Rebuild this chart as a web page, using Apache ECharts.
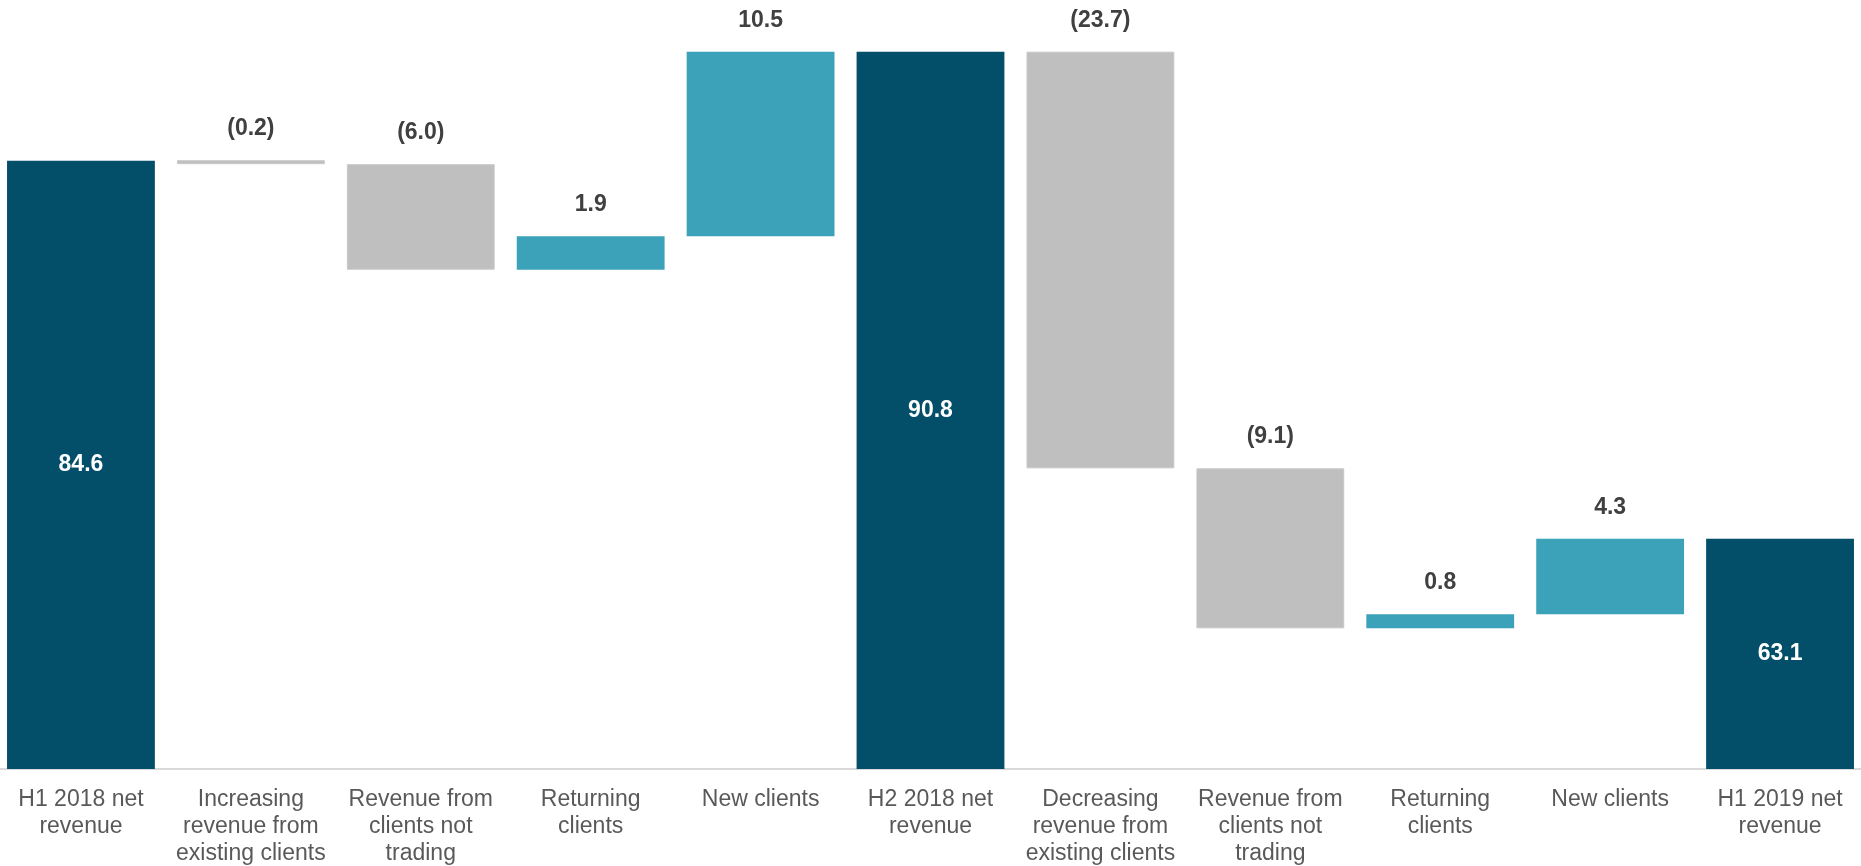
<!DOCTYPE html>
<html>
<head>
<meta charset="utf-8">
<script src="https://cdn.jsdelivr.net/npm/echarts@6/dist/echarts.min.js"></script>
<style>
  html, body { margin: 0; padding: 0; background: #fff; }
  #chart { width: 1861px; height: 866px; }
</style>
</head>
<body>
<div id="chart"></div>
<script>
// bridge: H1 2018 -> H2 2018 -> H1 2019 net revenue
const categories = [
  'H1 2018 net\nrevenue',
  'Increasing\nrevenue from\nexisting clients',
  'Revenue from\nclients not\ntrading',
  'Returning\nclients',
  'New clients',
  'H2 2018 net\nrevenue',
  'Decreasing\nrevenue from\nexisting clients',
  'Revenue from\nclients not\ntrading',
  'Returning\nclients',
  'New clients',
  'H1 2019 net\nrevenue',
]
const values = [84.6, -0.2, -6.0, 1.9, 10.5, 90.8, -23.7, -9.1, 0.8, 4.3, 63.1]
const isTotal = [true, false, false, false, false, true, false, false, false, false, true]

const COLOR_TOTAL = '#034E69'
const COLOR_UP = '#3BA2B9'
const COLOR_DOWN = '#BFBFBF'
const FONT = 'Arial, "Liberation Sans", sans-serif'

// 计算瀑布图的透明底座和可见部分
const baseData = []
const barData = []
let running = 0
values.forEach((v, i) => {
  if (isTotal[i]) {
    running = v
    baseData.push(0)
    barData.push({
      value: v,
      itemStyle: { color: COLOR_TOTAL },
      label: { position: 'inside', color: '#fff' },
    })
  } else {
    const low = Math.min(running, running + v)
    running += v
    baseData.push(low)
    barData.push({
      value: Math.abs(v),
      itemStyle: v < 0
        ? { color: COLOR_DOWN, borderColor: '#C8C8C8', borderWidth: 1 }
        : { color: COLOR_UP },
      label: { position: 'top', distance: 20, color: '#404040' },
    })
  }
})

function fmt(i) {
  const v = values[i]
  return v < 0 ? '(' + Math.abs(v).toFixed(1) + ')' : v.toFixed(1)
}

const chart = echarts.init(document.getElementById('chart'))
chart.setOption({
  animation: false,
  grid: { left: -4, right: -4, top: 13, bottom: 97, containLabel: false, outerBoundsMode: 'none' },
  xAxis: {
    type: 'category',
    data: categories,
    axisLine: { show: true, lineStyle: { color: '#D9D9D9', width: 2 } },
    axisTick: { show: false },
    axisLabel: {
      interval: 0,
      margin: 17,
      color: '#595959',
      fontSize: 23,
      lineHeight: 27,
      fontFamily: FONT,
    },
  },
  yAxis: {
    type: 'value',
    min: 50,
    max: 93,
    show: false,
    splitLine: { show: false },
  },
  series: [
    {
      type: 'bar',
      stack: 'wf',
      data: baseData,
      barWidth: '87%',
      itemStyle: { color: 'transparent' },
      silent: true,
    },
    {
      type: 'bar',
      stack: 'wf',
      data: barData,
      barWidth: '87%',
      barMinHeight: 4,
      label: {
        show: true,
        fontSize: 23,
        fontWeight: 'bold',
        fontFamily: FONT,
        formatter: (p) => fmt(p.dataIndex),
      },
    },
  ],
})
</script>
</body>
</html>
